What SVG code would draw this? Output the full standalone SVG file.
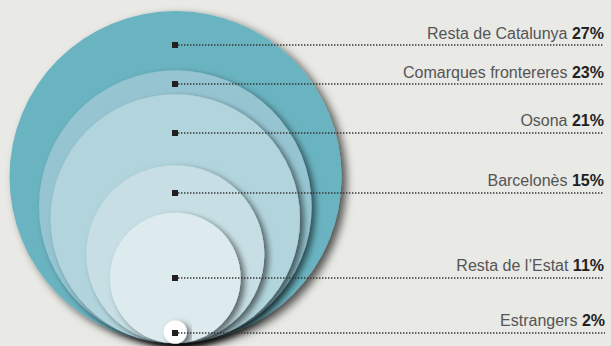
<svg xmlns="http://www.w3.org/2000/svg" width="611" height="346" viewBox="0 0 611 346">
<defs>
<filter id="sh" x="-20%" y="-20%" width="140%" height="140%">
<feDropShadow dx="4" dy="3" stdDeviation="3" flood-color="#000" flood-opacity="0.55"/>
</filter>
<filter id="sh0" x="-20%" y="-20%" width="140%" height="140%">
<feDropShadow dx="5" dy="4" stdDeviation="4" flood-color="#000" flood-opacity="0.65"/>
</filter>
</defs>
<style>
.lbl{font-family:"Liberation Sans",Arial,sans-serif;font-size:16px;fill:#555;text-anchor:end}
.lbl tspan{font-weight:bold;fill:#222}
.mk{fill:#231f20}
.cn line{stroke:#333;stroke-width:1.3;stroke-dasharray:1.4 1.6;fill:none}
</style>
<rect width="611" height="346" fill="#e9e9e5"/>
<g id="resta-catalunya">
<circle cx="175.5" cy="177" r="166" fill="#6bb3c1" filter="url(#sh0)"/>
<rect class="mk" x="172" y="42" width="6" height="6"/>
<text class="lbl" x="604" y="38.5">Resta de Catalunya <tspan>27%</tspan></text>
</g>
<g id="comarques-frontereres">
<circle cx="175.3" cy="206.6" r="136.3" fill="#96c5d1" filter="url(#sh)"/>
<rect class="mk" x="172" y="81" width="6" height="6"/>
<text class="lbl" x="604" y="77.5">Comarques frontereres <tspan>23%</tspan></text>
</g>
<g id="osona">
<circle cx="175.3" cy="219" r="124.7" fill="#b2d5dd" filter="url(#sh)"/>
<rect class="mk" x="172" y="130" width="6" height="6"/>
<text class="lbl" x="604" y="126">Osona <tspan>21%</tspan></text>
</g>
<g id="barcelones">
<circle cx="175.3" cy="254.3" r="89" fill="#c7dfe4" filter="url(#sh)"/>
<rect class="mk" x="172" y="190" width="6" height="6"/>
<text class="lbl" x="604" y="185.5">Barcelonès <tspan>15%</tspan></text>
</g>
<g id="resta-estat">
<circle cx="175.3" cy="278" r="65.3" fill="#ddebee" filter="url(#sh)"/>
<rect class="mk" x="172" y="275" width="6" height="6"/>
<text class="lbl" x="604" y="270.5">Resta de l’Estat <tspan>11%</tspan></text>
</g>
<g id="estrangers">
<circle cx="175.3" cy="332" r="11.6" fill="#ffffff" filter="url(#sh)"/>
<rect class="mk" x="172" y="330" width="6" height="6"/>
<text class="lbl" x="605" y="326">Estrangers <tspan>2%</tspan></text>
</g>
<g id="connectors" class="cn">
<line x1="178" y1="45" x2="603" y2="45"/>
<line x1="178" y1="84" x2="603" y2="84"/>
<line x1="178" y1="133" x2="603" y2="133"/>
<line x1="178" y1="193" x2="603" y2="193"/>
<line x1="178" y1="278" x2="603" y2="278"/>
<line x1="178" y1="333" x2="605" y2="333"/>
</g>
</svg>
